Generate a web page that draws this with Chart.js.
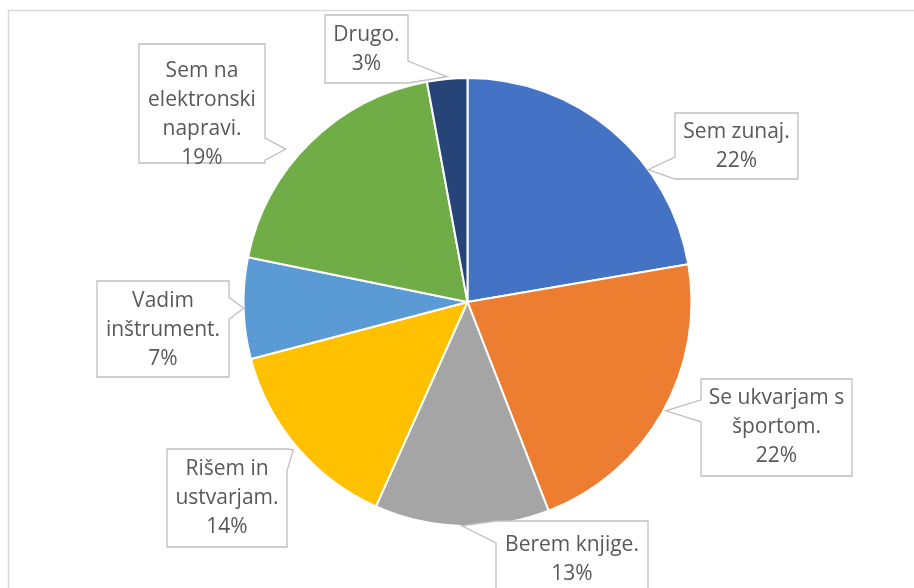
<!DOCTYPE html>
<html>
<head>
<meta charset="utf-8">
<script src="https://cdn.jsdelivr.net/npm/chart.js@4.4.1/dist/chart.umd.min.js"></script>
<style>
    html, body { margin: 0; padding: 0; background: #ffffff; }
    #wrap { width: 914px; height: 588px; position: relative; }
</style>
</head>
<body>
<div id="wrap"><canvas id="pieChart" width="914" height="588"></canvas></div>
<script>
// Chart data
const categories = ['Sem zunaj.', 'Se ukvarjam s športom.', 'Berem knjige.', 'Rišem in ustvarjam.', 'Vadim inštrument.', 'Sem na elektronski napravi.', 'Drugo.'];
const shares = [22.3, 21.8, 12.6, 14.2, 7.3, 18.9, 2.9];
const labelLines = [
    ['Sem zunaj.'],
    ['Se ukvarjam s', 'športom.'],
    ['Berem knjige.'],
    ['Rišem in', 'ustvarjam.'],
    ['Vadim', 'inštrument.'],
    ['Sem na', 'elektronski', 'napravi.'],
    ['Drugo.']
];
const sliceColors = ['#4472C4', '#ED7D31', '#A5A5A5', '#FFC000', '#5B9BD5', '#70AD47', '#264478'];

// Callout boxes (layout only): box, first text line centre, where the pointer hits the slice
const calloutBoxes = [
    { x: 675, y: 113, w: 123, h: 66, ty: 132, at: 0.67, rf: 1.0 },
    { x: 701, y: 379, w: 151, h: 97, ty: 398, at: 0.49, rf: 1.01 },
    { x: 496, y: 521, w: 152, h: 80, ty: 545, at: 0.5, rf: 1.0 },
    { x: 167, y: 449, w: 120, h: 98, ty: 469, at: 0.5, rf: 1.02 },
    { x: 97, y: 281, w: 132, h: 96, ty: 301, at: 0.5, rf: 1.0 },
    { x: 139, y: 44, w: 126, h: 119, ty: 71, at: 0.42, rf: 1.06 },
    { x: 325, y: 15, w: 83, h: 68, ty: 35, at: 0.5, rf: 1.01 }
];

const FONT = '21px "Open Sans", Lato, sans-serif';
const LINE_H = 29;

const total = shares.reduce((a, b) => a + b, 0);

function boxPath(ctx, b, tip) {
    const half = 11;
    const L = b.x, T = b.y, R = b.x + b.w, B = b.y + b.h;
    let side;
    if (tip.x < L) side = 'left';
    else if (tip.x > R) side = 'right';
    else if (tip.y > B) side = 'bottom';
    else side = 'top';

    ctx.beginPath();
    ctx.moveTo(L, T);
    if (side === 'top') {
        const c = Math.min(Math.max(tip.x, L + half), R - half);
        ctx.lineTo(c - half, T); ctx.lineTo(tip.x, tip.y); ctx.lineTo(c + half, T);
    }
    ctx.lineTo(R, T);
    if (side === 'right') {
        const c = Math.min(Math.max(tip.y, T + half), B - half);
        ctx.lineTo(R, c - half); ctx.lineTo(tip.x, tip.y); ctx.lineTo(R, c + half);
    }
    ctx.lineTo(R, B);
    if (side === 'bottom') {
        const c = Math.min(Math.max(tip.x, L + half), R - half);
        ctx.lineTo(c + half, B); ctx.lineTo(tip.x, tip.y); ctx.lineTo(c - half, B);
    }
    ctx.lineTo(L, B);
    if (side === 'left') {
        const c = Math.min(Math.max(tip.y, T + half), B - half);
        ctx.lineTo(L, c + half); ctx.lineTo(tip.x, tip.y); ctx.lineTo(L, c - half);
    }
    ctx.closePath();
}

const frameAndCallouts = {
    id: 'frameAndCallouts',
    beforeDraw(chart) {
        const ctx = chart.ctx;
        ctx.save();
        ctx.fillStyle = '#ffffff';
        ctx.fillRect(0, 0, chart.width, chart.height);
        ctx.strokeStyle = '#d9d9d9';
        ctx.lineWidth = 1.5;
        ctx.strokeRect(8.5, 10.5, 1000, 1000);
        ctx.restore();
    },
    afterDraw(chart) {
        const ctx = chart.ctx;
        const arcs = chart.getDatasetMeta(0).data;
        ctx.save();
        arcs.forEach((arc, i) => {
            const b = calloutBoxes[i];
            const a = arc.startAngle + (arc.endAngle - arc.startAngle) * b.at;
            const r = arc.outerRadius * b.rf;
            const tip = { x: arc.x + r * Math.cos(a), y: arc.y + r * Math.sin(a) };

            boxPath(ctx, b, tip);
            ctx.fillStyle = '#ffffff';
            ctx.fill();
            ctx.strokeStyle = '#bfbfbf';
            ctx.lineWidth = 1.3;
            ctx.stroke();

            const pct = Math.round(shares[i] / total * 100) + '%';
            const lines = labelLines[i].concat([pct]);
            ctx.fillStyle = '#595959';
            ctx.font = FONT;
            ctx.textAlign = 'center';
            ctx.textBaseline = 'middle';
            lines.forEach((t, k) => {
                ctx.fillText(t, b.x + b.w / 2, b.ty + k * LINE_H);
            });
        });
        ctx.restore();
    }
};

new Chart(document.getElementById('pieChart'), {
    type: 'pie',
    data: {
        labels: categories,
        datasets: [{
            data: shares,
            backgroundColor: sliceColors,
            borderColor: '#ffffff',
            borderWidth: 2
        }]
    },
    options: {
        responsive: false,
        animation: false,
        layout: {
            padding: { left: 242, right: 221, top: 77, bottom: 61 }
        },
        plugins: {
            legend: { display: false },
            tooltip: { enabled: false }
        }
    },
    plugins: [frameAndCallouts]
});
</script>
</body>
</html>
